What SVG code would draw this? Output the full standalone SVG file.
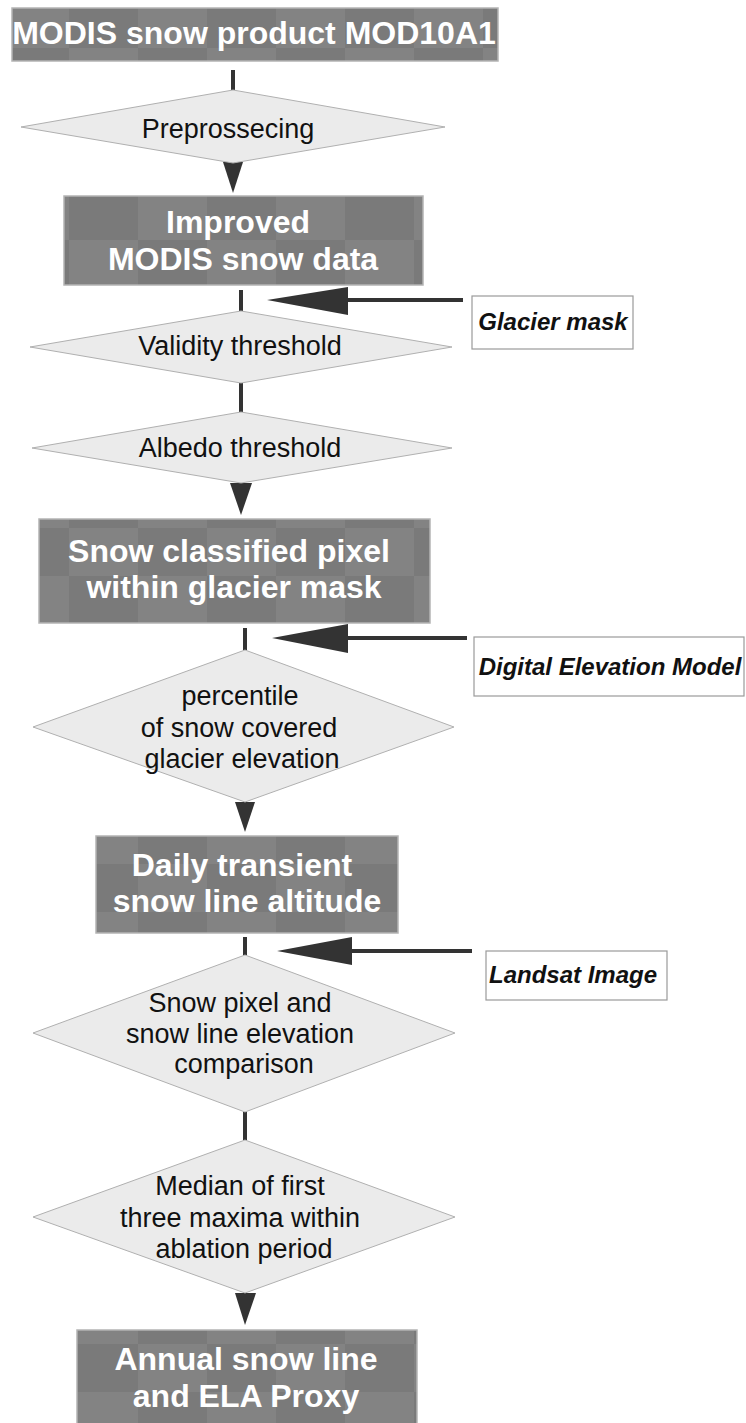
<svg xmlns="http://www.w3.org/2000/svg" width="746" height="1423" viewBox="0 0 746 1423">
  <defs>
    <pattern id="chk" patternUnits="userSpaceOnUse" width="138" height="96">
      <rect width="138" height="96" fill="#7a7a7a"/>
      <rect x="0" y="0" width="69" height="48" fill="#838383"/>
      <rect x="69" y="48" width="69" height="48" fill="#838383"/>
    </pattern>
  </defs>
  <style>
    .box { fill: url(#chk); stroke: #b4b4b4; stroke-width: 1.5; }
    .dia { fill: #ebebeb; stroke: #b0b0b0; stroke-width: 1; }
    .lbl { fill: #ffffff; stroke: #9a9a9a; stroke-width: 1.2; }
    .bt { font-family: "Liberation Sans", Arial, sans-serif; font-weight: bold; font-size: 32px; fill: #ffffff; text-anchor: middle; }
    .dt { font-family: "Liberation Sans", Arial, sans-serif; font-size: 27px; fill: #111111; text-anchor: middle; }
    .lt { font-family: "Liberation Sans", Arial, sans-serif; font-weight: bold; font-style: italic; font-size: 24px; fill: #111111; text-anchor: middle; }
    .ln { stroke: #333333; stroke-width: 4; fill: none; }
    .ah { fill: #333333; stroke: none; }
  </style>
  <rect width="746" height="1423" fill="#ffffff"/>

  <g id="connectors">
    <line class="ln" x1="233" y1="70" x2="233" y2="90"/>
    <polygon class="ah" points="223,162 243,162 233,193"/>
    <line class="ln" x1="241" y1="290" x2="241" y2="311"/>
    <line class="ln" x1="241" y1="383" x2="241" y2="412"/>
    <polygon class="ah" points="230,483 252,483 241,515"/>
    <line class="ln" x1="245" y1="628" x2="245" y2="650"/>
    <polygon class="ah" points="235,802 255,802 245,832"/>
    <line class="ln" x1="245" y1="937" x2="245" y2="955"/>
    <line class="ln" x1="245" y1="1112" x2="245" y2="1140"/>
    <polygon class="ah" points="235,1293 256,1293 245,1325"/>
    <line class="ln" x1="346" y1="300" x2="463" y2="300"/>
    <polygon class="ah" points="267,300 348,287 348,315"/>
    <line class="ln" x1="346" y1="638" x2="467" y2="638"/>
    <polygon class="ah" points="272,638 348,624 348,653"/>
    <line class="ln" x1="350" y1="951" x2="472" y2="951"/>
    <polygon class="ah" points="277,951 352,937 352,965"/>
  </g>

  <g id="modis-product">
    <rect class="box" x="12" y="8" width="486" height="53"/>
    <text class="bt" x="254" y="44">MODIS snow product MOD10A1</text>
  </g>

  <g id="preprocessing">
    <polygon class="dia" points="233,90 445,127 233,163 21,127"/>
    <text class="dt" x="228" y="138">Preprossecing</text>
  </g>

  <g id="improved-modis">
    <rect class="box" x="64" y="196" width="359" height="89"/>
    <text class="bt" x="238" y="233">Improved</text>
    <text class="bt" x="243" y="270">MODIS snow data</text>
  </g>

  <g id="glacier-mask">
    <rect class="lbl" x="472" y="296" width="161" height="53"/>
    <text class="lt" x="553" y="330">Glacier mask</text>
  </g>

  <g id="validity-threshold">
    <polygon class="dia" points="241,311 452,347 241,383 30,347"/>
    <text class="dt" x="240" y="355">Validity threshold</text>
  </g>

  <g id="albedo-threshold">
    <polygon class="dia" points="241,412 452,448 241,483 32,448"/>
    <text class="dt" x="240" y="457">Albedo threshold</text>
  </g>

  <g id="snow-classified">
    <rect class="box" x="39" y="519" width="391" height="104"/>
    <text class="bt" x="229" y="562">Snow classified pixel</text>
    <text class="bt" x="234" y="598">within glacier mask</text>
  </g>

  <g id="dem">
    <rect class="lbl" x="474" y="637" width="270" height="59"/>
    <text class="lt" x="610" y="675">Digital Elevation Model</text>
  </g>

  <g id="percentile">
    <polygon class="dia" points="245,650 454,727 245,802 33,727"/>
    <text class="dt" x="240" y="705">percentile</text>
    <text class="dt" x="239" y="737">of snow covered</text>
    <text class="dt" x="242" y="768">glacier elevation</text>
  </g>

  <g id="daily-snowline">
    <rect class="box" x="96" y="836" width="302" height="97"/>
    <text class="bt" x="242" y="876">Daily transient</text>
    <text class="bt" x="247" y="912">snow line altitude</text>
  </g>

  <g id="landsat">
    <rect class="lbl" x="486" y="951" width="181" height="49"/>
    <text class="lt" x="573" y="983">Landsat Image</text>
  </g>

  <g id="comparison">
    <polygon class="dia" points="245,955 455,1033 245,1112 33,1033"/>
    <text class="dt" x="240" y="1012">Snow pixel and</text>
    <text class="dt" x="240" y="1043">snow line elevation</text>
    <text class="dt" x="244" y="1073">comparison</text>
  </g>

  <g id="median">
    <polygon class="dia" points="245,1140 455,1217 245,1293 33,1217"/>
    <text class="dt" x="240" y="1195">Median of first</text>
    <text class="dt" x="240" y="1227">three maxima within</text>
    <text class="dt" x="244" y="1258">ablation period</text>
  </g>

  <g id="annual-snowline">
    <rect class="box" x="77" y="1330" width="340" height="100"/>
    <text class="bt" x="246" y="1370">Annual snow line</text>
    <text class="bt" x="246" y="1407">and ELA Proxy</text>
  </g>
</svg>
